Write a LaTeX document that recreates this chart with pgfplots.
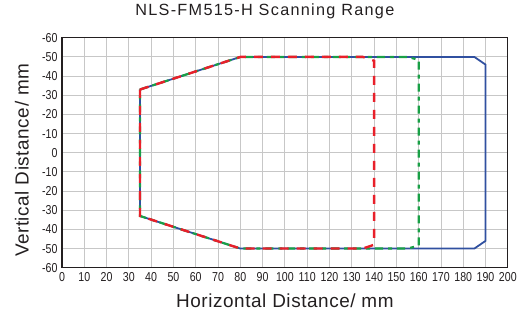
\documentclass[border=0pt]{standalone}
\usepackage{fontspec}
\setmainfont{Liberation Sans}
\newfontfamily\tickfont[FakeStretch=0.82]{Liberation Sans}
\usepackage{pgfplots}
\pgfplotsset{compat=1.18}
\definecolor{cblue}{RGB}{48,80,160}
\definecolor{cred}{RGB}{232,32,42}
\definecolor{cgreen}{RGB}{25,160,70}
\definecolor{ctext}{RGB}{35,31,32}
\begin{document}
\begin{tikzpicture}
\begin{axis}[
  scale only axis,
  width=446bp, height=230bp,
  xmin=0, xmax=200, ymin=-60, ymax=60,
  xtick={0,10,...,200},
  ytick={-60,-50,...,60},
  yticklabels={-60,-50,-40,-30,-20,-10,0,-10,-20,-30,-40,-50,-60},
  /pgf/number format/assume math mode=true,
  ticklabel style={font=\tickfont\fontsize{13}{13}\selectfont, text=ctext},
  xticklabel style={yshift=-1pt},
  yticklabel style={xshift=-1pt},
  major tick length=0pt,
  grid=major,
  major grid style={black!22, line width=0.9pt},
  axis line style={ctext, line width=1.3pt},
  title={\addfontfeature{LetterSpace=8}NLS-FM515-H Scanning Range},
  title style={font=\fontsize{16.3}{18}\selectfont, text=ctext, at={(axis description cs:0.455,1.091)}, anchor=center},
  xlabel={\addfontfeature{LetterSpace=3}Horizontal Distance/ mm},
  ylabel={\addfontfeature{LetterSpace=3}Vertical Distance/ mm},
  label style={font=\fontsize{19}{21}\selectfont, text=ctext},
  xlabel style={at={(axis description cs:0.5,-0.1435)}, anchor=center},
  ylabel style={at={(axis description cs:-0.0897,0.467)}, anchor=center},
  clip=false,
]
\path (axis cs:-27.8,-85.6) (axis cs:205.4,79.3);
\addplot[cblue, line width=1.8pt] coordinates {
 (35,33) (80,50) (185,50) (190,46) (190,-46) (185,-50) (80,-50) (35,-33) (35,33)};
\addplot[cgreen, line width=2.2pt, dash pattern=on 8bp off 5bp on 4bp off 5bp] coordinates {
 (35,33) (80,50) (155,50) (160,48.5) (160,-48.5) (155,-50) (80,-50) (35,-33) (35,33)};
\addplot[cred, line width=2.4pt, dash pattern=on 9bp off 8bp] coordinates {
 (35,33) (80,50) (135,50) (140,48) (140,-48) (135,-50) (80,-50) (35,-33) (35,33)};
\end{axis}
\end{tikzpicture}
\end{document}
